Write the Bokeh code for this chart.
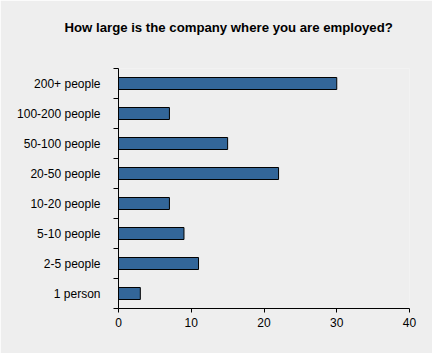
from bokeh.plotting import figure
from bokeh.models import Range1d, FixedTicker, ColumnDataSource
from bokeh.embed import file_html
from bokeh.resources import INLINE

categories = ["1 person", "2-5 people", "5-10 people", "10-20 people",
              "20-50 people", "50-100 people", "100-200 people", "200+ people"]
counts = [3, 11, 9, 7, 22, 15, 7, 30]
x_ticks = [0, 10, 20, 30, 40]
title_text = "How large is the company where you are employed?"

pos = [i + 0.5 for i in range(len(categories))]
src = ColumnDataSource(dict(y=pos, right=counts, cat=categories))

BG = "#eeeeee"
p = figure(width=432, height=353, output_backend="svg", toolbar_location=None,
           x_range=Range1d(0, 40), y_range=Range1d(0, len(categories)),
           min_border_left=118, min_border_right=23, min_border_top=68, min_border_bottom=45,
           background_fill_color=BG, border_fill_color=BG, outline_line_color=None)

p.hbar(y="y", left=0, right="right", height=0.4, source=src,
       fill_color="#336699", line_color="black", line_width=1)

p.grid.visible = False

# two trailing empty lines lift the visible title line towards the top edge
p.title.text = title_text + "\n\n"
p.title.text_font = "Liberation Sans"
p.title.text_font_size = "13.2px"
p.title.text_font_style = "bold"
p.title.text_color = "black"
p.title.align = "left"
p.title.offset = -54
p.title.standoff = 8

xa = p.xaxis[0]
xa.ticker = FixedTicker(ticks=x_ticks)
xa.minor_tick_line_color = None
xa.major_tick_out = 4
xa.major_tick_in = 0
xa.major_label_standoff = 5
xa.major_label_text_font = "Liberation Sans"
xa.major_label_text_font_size = "12px"
xa.major_label_text_color = "black"
xa.axis_line_color = "black"

ya = p.yaxis[0]
ya.ticker = FixedTicker(ticks=pos, minor_ticks=list(range(len(categories) + 1)))
ya.major_label_overrides = {v: c for v, c in zip(pos, categories)}
ya.major_tick_line_color = None
ya.major_tick_out = 0
ya.major_tick_in = 0
ya.minor_tick_out = 5
ya.minor_tick_in = 0
ya.minor_tick_line_color = "black"
ya.major_label_standoff = 13
ya.major_label_text_font = "Liberation Sans"
ya.major_label_text_font_size = "12px"
ya.major_label_text_color = "black"
ya.axis_line_color = "black"

open("out.html", "w").write(file_html(p, INLINE))
